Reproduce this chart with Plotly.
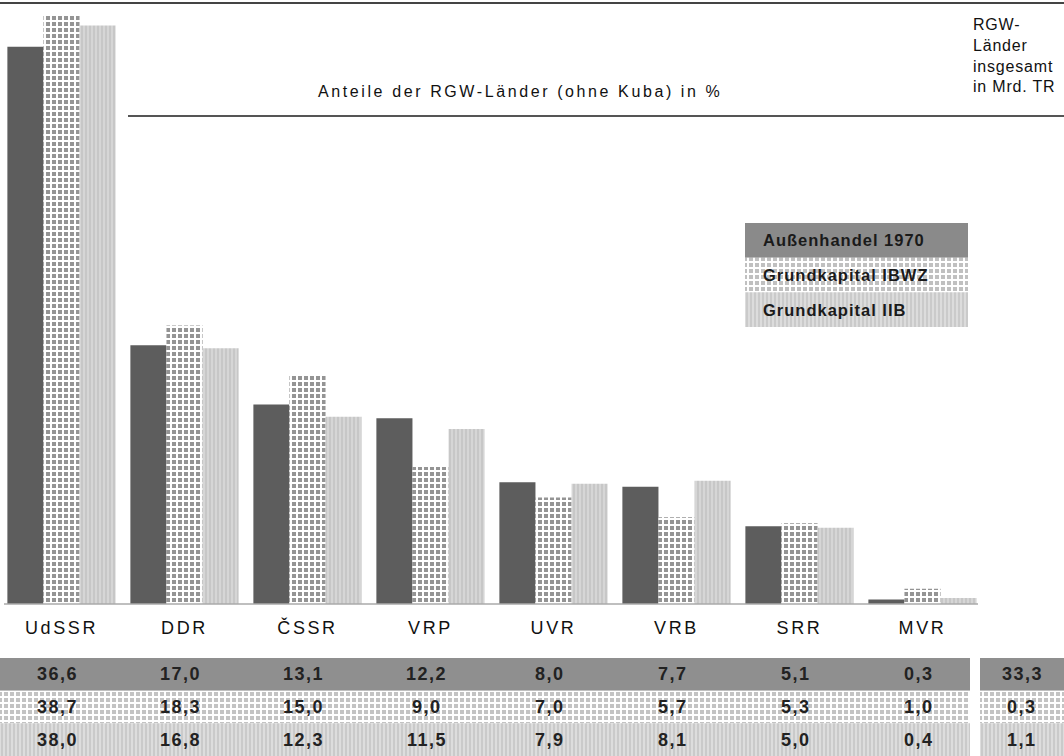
import plotly.graph_objects as go

# ---------------- data ----------------
laender = ["UdSSR", "DDR", "ČSSR", "VRP", "UVR", "VRB", "SRR", "MVR"]
serien = ["Außenhandel 1970", "Grundkapital IBWZ", "Grundkapital IIB"]
aussenhandel_1970 = [36.6, 17.0, 13.1, 12.2, 8.0, 7.7, 5.1, 0.3]
grundkapital_ibwz = [38.7, 18.3, 15.0, 9.0, 7.0, 5.7, 5.3, 1.0]
grundkapital_iib = [38.0, 16.8, 12.3, 11.5, 7.9, 8.1, 5.0, 0.4]
rgw_insgesamt = [33.3, 0.3, 1.1]   # Mrd. TR, in Reihenfolge der Serien
titel = "Anteile der RGW-Länder (ohne Kuba) in %"
rgw_text = ["RGW-", "Länder", "insgesamt", "in Mrd. TR"]

werte = [aussenhandel_1970, grundkapital_ibwz, grundkapital_iib]

# ---------------- geometry helpers ----------------
W, H = 1064, 756
def px(x):
    return x / W
def py(y):
    return 1 - y / H

FONT = "Liberation Sans, Arial, sans-serif"

def fmt(v):
    return f"{v:.1f}".replace(".", ",")

def spaced(t, s):
    return f'<span style="letter-spacing:{s}px">{t}</span>'

# styles: bars, table, legend
def style(kind, level):
    if kind == 0:
        c = {"bar": "#5d5d5d", "tab": "#8f8f8f", "leg": "#8a8a8a"}[level]
        return dict(color=c, line=dict(width=0))
    if kind == 1:
        c = {"bar": "#949494", "tab": "#c3c3c3", "leg": "#c0c0c0"}[level]
        return dict(color=c, line=dict(width=0),
                    pattern=dict(shape="+", fgcolor="white", bgcolor=c,
                                 size=6, solidity=0.55, fillmode="replace"))
    c = {"bar": "#d6d6d6", "tab": "#dddddd", "leg": "#dcdcdc"}[level]
    return dict(color=c, line=dict(width=0),
                pattern=dict(shape="|", fgcolor="#bebebe", bgcolor=c,
                             size=4, solidity=0.3, fillmode="replace"))

fig = go.Figure()

# main bars
for i, (name, vals) in enumerate(zip(serien, werte)):
    fig.add_trace(go.Bar(x=laender, y=vals, name=name, marker=style(i, "bar"),
                         xaxis="x", yaxis="y", showlegend=False, hoverinfo="x+y"))

NUMFONT = dict(family=FONT, size=18, color="#222", weight="bold")

annotations = []

# table bands + values
for r, (name, vals) in enumerate(zip(serien, werte)):
    fig.add_trace(go.Bar(x=[0.5], y=[1], base=[r], width=1, offset=-0.5,
                         marker=style(r, "tab"), xaxis="x5", yaxis="y5",
                         showlegend=False, hoverinfo="skip"))
    for land, v in zip(laender, vals):
        annotations.append(dict(x=land, y=r + 0.5, xref="x2", yref="y2",
                                text=spaced(fmt(v), 1.5), showarrow=False,
                                xanchor="center", yanchor="middle", xshift=-4,
                                font=NUMFONT))
    # right box (RGW insgesamt)
    fig.add_trace(go.Bar(x=["RGW"], y=[1], base=[r], width=1, offset=-0.5,
                         marker=style(r, "tab"), xaxis="x3", yaxis="y3",
                         showlegend=False, hoverinfo="skip"))
    annotations.append(dict(x="RGW", y=r + 0.5, xref="x3", yref="y3",
                            text=spaced(fmt(rgw_insgesamt[r]), 1.5), showarrow=False,
                            xanchor="center", yanchor="middle", font=NUMFONT))
    # legend box
    fig.add_trace(go.Bar(x=[0.5], y=[1], base=[r], width=1, offset=-0.5,
                         marker=style(r, "leg"), xaxis="x4", yaxis="y4",
                         showlegend=False, hoverinfo="skip"))

for r, name in enumerate(serien):
    annotations.append(dict(x=0.07, y=r + 0.5, xref="x4", yref="y4",
                            text="<b>" + spaced(name, 1.0) + "</b>", showarrow=False,
                            xanchor="left", yanchor="middle",
                            font=dict(family=FONT, size=16.5, color="#1a1a1a")))

annotations.append(dict(x=px(520), y=py(92), xref="paper", yref="paper",
                        text=spaced(titel, 2.6), showarrow=False,
                        xanchor="center", yanchor="middle",
                        font=dict(family=FONT, size=16, color="#111")))
annotations.append(dict(x=px(971), y=py(14), xref="paper", yref="paper",
                        text="<br>".join(spaced(t, 0.8) for t in rgw_text),
                        showarrow=False, xanchor="left", yanchor="top", align="left",
                        font=dict(family=FONT, size=16, color="#111")))

shapes = [
    dict(type="line", xref="paper", yref="paper", x0=0, x1=1, y0=py(3), y1=py(3),
         line=dict(color="#444", width=2)),
    dict(type="line", xref="paper", yref="paper", x0=px(128), x1=1, y0=py(116), y1=py(116),
         line=dict(color="#555", width=2)),
    dict(type="line", xref="paper", yref="paper", x0=px(4), x1=px(978), y0=py(604), y1=py(604),
         line=dict(color="#aaa", width=1.5)),
]

fig.update_layout(
    width=W, height=H,
    margin=dict(l=0, r=0, t=0, b=0),
    paper_bgcolor="white", plot_bgcolor="white",
    barmode="group", bargap=0.12, bargroupgap=0,
    font=dict(family=FONT, color="#111"),
    annotations=annotations, shapes=shapes,
    xaxis=dict(domain=[0, px(984)], type="category", showgrid=False, showline=False,
               zeroline=False, ticks="", tickmode="array", tickvals=laender,
               ticktext=[spaced(l, 2.6) for l in laender],
               tickfont=dict(family=FONT, size=18, color="#111"),
               ticklabelstandoff=11, anchor="y"),
    yaxis=dict(domain=[py(604), 1], range=[0, 603 / 15.2], visible=False, anchor="x"),
    xaxis2=dict(domain=[0, px(984)], type="category", matches="x", visible=False, anchor="y2",
                categoryorder="array", categoryarray=laender),
    yaxis2=dict(domain=[0, py(658)], range=[3, 0], visible=False, anchor="x2"),
    xaxis3=dict(domain=[px(980), 1], type="category", visible=False, anchor="y3"),
    yaxis3=dict(domain=[0, py(658)], range=[3, 0], visible=False, anchor="x3"),
    xaxis4=dict(domain=[px(745), px(968)], range=[0, 1], visible=False, anchor="y4"),
    yaxis4=dict(domain=[py(327), py(223)], range=[3, 0], visible=False, anchor="x4"),
    xaxis5=dict(domain=[0, px(970)], range=[0, 1], visible=False, anchor="y5"),
    yaxis5=dict(domain=[0, py(658)], range=[3, 0], visible=False, anchor="x5"),
)

fig.write_html("out.html", config={"displayModeBar": False},
               post_script="document.body.style.margin='0px';")
